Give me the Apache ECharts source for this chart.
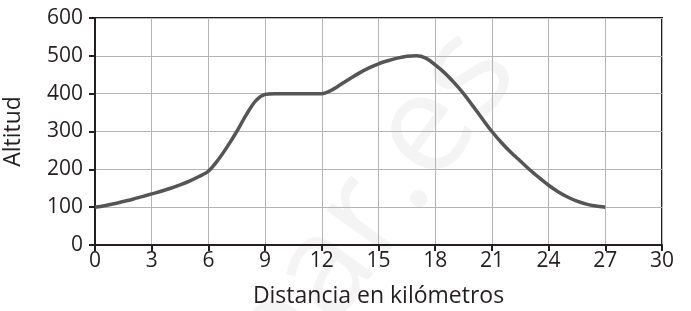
<!DOCTYPE html>
<html style="height: 100%">
<head>
<meta charset="utf-8">
<script type="text/javascript" src="https://cdn.jsdelivr.net/npm/echarts@6/dist/echarts.min.js"></script>
</head>
<body style="height: 100%; margin: 0; background: #fff">
<div id="container" style="width: 691px; height: 311px"></div>
<script type="text/javascript">
// altitude every 0.5 km, from 0 to 27 km
var distancia = [0, 0.5, 1, 1.5, 2, 2.5, 3, 3.5, 4, 4.5, 5, 5.5, 6, 6.5, 7, 7.5, 8, 8.5, 9, 9.5,
                 10, 10.5, 11, 11.5, 12, 12.5, 13, 13.5, 14, 14.5, 15, 15.5, 16, 16.5, 17, 17.5, 18, 18.5, 19, 19.5,
                 20, 20.5, 21, 21.5, 22, 22.5, 23, 23.5, 24, 24.5, 25, 25.5, 26, 26.5, 27];
var altitud   = [100, 104, 109, 115, 121, 128, 135, 142, 150, 159, 169, 181, 195, 224, 260, 300, 344, 381, 398, 400,
                 400, 400, 400, 400, 400, 409, 424, 440, 455, 468, 479, 487, 494, 499, 500, 494, 476, 455, 429, 400,
                 367, 333, 300, 271, 245, 222, 199, 178, 158, 141, 127, 116, 108, 103, 100];
var xTicks = [0, 3, 6, 9, 12, 15, 18, 21, 24, 27, 30];
var yTicks = [0, 100, 200, 300, 400, 500, 600];

var puntos = distancia.map(function (d, i) { return [d, altitud[i]]; });
var font = '"Open Sans", "Noto Sans", sans-serif';
var ink = '#231f20';

var dom = document.getElementById("container");
var myChart = echarts.init(dom);
var option = {
    animation: false,
    grid: {
        left: 95,
        right: 29,
        top: 18,
        bottom: 66,
        outerBoundsMode: 'none',
        containLabel: false,
        show: true,
        borderColor: ink,
        borderWidth: 2
    },
    // faint watermark
    graphic: [{
        type: 'text',
        x: 370,
        y: 210,
        rotation: Math.PI * 0.3,
        z: -1,
        silent: true,
        style: {
            text: 'bar.es',
            fontSize: 140,
            fontFamily: font,
            align: 'center',
            verticalAlign: 'middle',
            fill: 'rgba(0,0,0,0.045)'
        }
    }],
    xAxis: {
        type: 'value',
        min: 0,
        max: 30,
        interval: 3,
        name: 'Distancia en kilómetros',
        nameLocation: 'middle',
        nameGap: 40,
        nameTextStyle: { color: ink, fontSize: 23, fontFamily: font },
        axisLine: { lineStyle: { color: ink, width: 2 } },
        axisTick: { length: 6, lineStyle: { color: ink, width: 2 } },
        axisLabel: { color: ink, fontSize: 21, fontFamily: font, margin: 6,
            formatter: function (v) { return xTicks.indexOf(v) >= 0 ? String(v) : ''; } },
        splitLine: { show: true, lineStyle: { color: '#b4b4b4', width: 1 } }
    },
    yAxis: {
        type: 'value',
        min: 0,
        max: 600,
        interval: 100,
        name: 'Altitud',
        nameLocation: 'middle',
        nameGap: 70,
        nameRotate: 90,
        nameTextStyle: { color: ink, fontSize: 23, fontFamily: font },
        axisLine: { show: true, lineStyle: { color: ink, width: 2 } },
        axisTick: { show: true, length: 6, lineStyle: { color: ink, width: 2 } },
        axisLabel: { color: ink, fontSize: 21, fontFamily: font, margin: 12,
            formatter: function (v) { return yTicks.indexOf(v) >= 0 ? String(v) : ''; } },
        splitLine: { show: true, lineStyle: { color: '#b4b4b4', width: 1 } }
    },
    series: [{
        type: 'line',
        data: puntos,
        smooth: 0.3,
        showSymbol: false,
        lineStyle: { color: '#555555', width: 3.5, join: 'round', cap: 'butt' }
    }]
};
myChart.setOption(option, true);
</script>
</body>
</html>
